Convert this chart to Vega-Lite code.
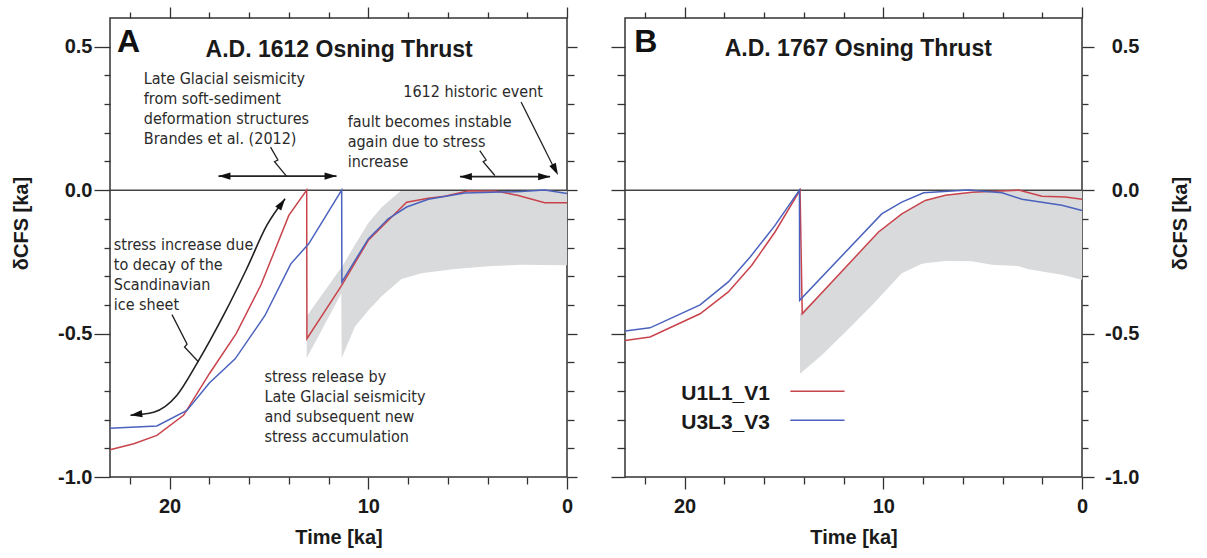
{
  "$schema": "https://vega.github.io/schema/vega-lite/v6.json",
  "background": "white",
  "padding": {"left": 10, "top": 5, "right": 5, "bottom": 5},
  "bounds": "flush",
  "spacing": 58,
  "config": {
    "view": {"stroke": "#333", "strokeWidth": 1.5},
    "axis": {"domain": false, "grid": false, "tickColor": "#333", "tickWidth": 1.3, "labelFont": "Liberation Sans", "labelFontSize": 20, "labelFontWeight": "bold", "labelColor": "#1a1a1a", "titleFont": "Liberation Sans", "titleFontSize": 20, "titleFontWeight": "bold", "titleColor": "#1a1a1a", "labelOverlap": false}
  },
  "datasets": {
    "zero": [{"v": 0}],
    "linesA": [
      {"series": "U1L1_V1", "i": 1, "t": 23.0, "v": -0.905},
      {"series": "U1L1_V1", "i": 2, "t": 21.8, "v": -0.884},
      {"series": "U1L1_V1", "i": 3, "t": 20.64, "v": -0.855},
      {"series": "U1L1_V1", "i": 4, "t": 19.3, "v": -0.785},
      {"series": "U1L1_V1", "i": 5, "t": 18.0, "v": -0.64},
      {"series": "U1L1_V1", "i": 6, "t": 16.65, "v": -0.5},
      {"series": "U1L1_V1", "i": 7, "t": 15.4, "v": -0.33},
      {"series": "U1L1_V1", "i": 8, "t": 14.0, "v": -0.088},
      {"series": "U1L1_V1", "i": 9, "t": 13.1, "v": 0.0},
      {"series": "U1L1_V1", "i": 10, "t": 13.09, "v": -0.518},
      {"series": "U1L1_V1", "i": 11, "t": 11.34, "v": -0.332},
      {"series": "U1L1_V1", "i": 12, "t": 10.0, "v": -0.175},
      {"series": "U1L1_V1", "i": 13, "t": 9.0, "v": -0.106},
      {"series": "U1L1_V1", "i": 14, "t": 8.07, "v": -0.042},
      {"series": "U1L1_V1", "i": 15, "t": 6.98, "v": -0.028},
      {"series": "U1L1_V1", "i": 16, "t": 6.15, "v": -0.021},
      {"series": "U1L1_V1", "i": 17, "t": 5.0, "v": -0.003},
      {"series": "U1L1_V1", "i": 18, "t": 3.6, "v": -0.003},
      {"series": "U1L1_V1", "i": 19, "t": 2.5, "v": -0.018},
      {"series": "U1L1_V1", "i": 20, "t": 1.12, "v": -0.044},
      {"series": "U1L1_V1", "i": 21, "t": 0.0, "v": -0.044},
      {"series": "U3L3_V3", "i": 1, "t": 23.0, "v": -0.83},
      {"series": "U3L3_V3", "i": 2, "t": 20.64, "v": -0.822},
      {"series": "U3L3_V3", "i": 3, "t": 19.13, "v": -0.768},
      {"series": "U3L3_V3", "i": 4, "t": 18.0, "v": -0.672},
      {"series": "U3L3_V3", "i": 5, "t": 16.7, "v": -0.588},
      {"series": "U3L3_V3", "i": 6, "t": 15.2, "v": -0.437},
      {"series": "U3L3_V3", "i": 7, "t": 13.9, "v": -0.257},
      {"series": "U3L3_V3", "i": 8, "t": 13.0, "v": -0.187},
      {"series": "U3L3_V3", "i": 9, "t": 11.34, "v": 0.0},
      {"series": "U3L3_V3", "i": 10, "t": 11.33, "v": -0.32},
      {"series": "U3L3_V3", "i": 11, "t": 10.0, "v": -0.17},
      {"series": "U3L3_V3", "i": 12, "t": 9.0, "v": -0.1},
      {"series": "U3L3_V3", "i": 13, "t": 8.07, "v": -0.059},
      {"series": "U3L3_V3", "i": 14, "t": 6.98, "v": -0.032},
      {"series": "U3L3_V3", "i": 15, "t": 5.14, "v": -0.01},
      {"series": "U3L3_V3", "i": 16, "t": 2.3, "v": -0.005},
      {"series": "U3L3_V3", "i": 17, "t": 1.12, "v": 0.0},
      {"series": "U3L3_V3", "i": 18, "t": 0.0, "v": -0.012}
    ],
    "bandA": [
      {"t": 13.1, "lo": -0.585, "hi": -0.44},
      {"t": 11.36, "lo": -0.36, "hi": -0.27},
      {"t": 11.34, "lo": -0.585, "hi": -0.27},
      {"t": 10.67, "lo": -0.475, "hi": -0.19},
      {"t": 10.0, "lo": -0.42, "hi": -0.115},
      {"t": 9.33, "lo": -0.37, "hi": -0.06},
      {"t": 8.33, "lo": -0.31, "hi": 0},
      {"t": 7.32, "lo": -0.29, "hi": 0},
      {"t": 5.64, "lo": -0.275, "hi": 0},
      {"t": 3.97, "lo": -0.265, "hi": 0},
      {"t": 2.3, "lo": -0.26, "hi": 0},
      {"t": 0, "lo": -0.262, "hi": 0}
    ],
    "notesA": [
      {"t": 21.3, "v": 0.37, "text": "Late Glacial seismicity\nfrom soft-sediment\ndeformation structures\nBrandes et al. (2012)"},
      {"t": 8.24, "v": 0.324, "text": "1612 historic event"},
      {"t": 11.04, "v": 0.22, "text": "fault becomes instable\nagain due to stress\nincrease"},
      {"t": 22.81, "v": -0.21, "text": "stress increase due\nto decay of the\nScandinavian\nice sheet"},
      {"t": 15.23, "v": -0.669, "text": "stress release by\nLate Glacial seismicity\nand subsequent new\nstress accumulation"}
    ],
    "pathsA": [
      {"id": "b1", "i": 1, "t": 14.92, "v": 0.15},
      {"id": "b1", "i": 2, "t": 14.55, "v": 0.105},
      {"id": "b1", "i": 3, "t": 14.72, "v": 0.099},
      {"id": "b1", "i": 4, "t": 14.12, "v": 0.049},
      {"id": "b2", "i": 1, "t": 4.39, "v": 0.138},
      {"id": "b2", "i": 2, "t": 4.07, "v": 0.105},
      {"id": "b2", "i": 3, "t": 4.22, "v": 0.099},
      {"id": "b2", "i": 4, "t": 3.63, "v": 0.051},
      {"id": "h", "i": 1, "t": 2.31, "v": 0.307},
      {"id": "h", "i": 2, "t": 0.6, "v": 0.07},
      {"id": "b3", "i": 1, "t": 19.88, "v": -0.434},
      {"id": "b3", "i": 2, "t": 19.12, "v": -0.537},
      {"id": "b3", "i": 3, "t": 19.25, "v": -0.547},
      {"id": "b3", "i": 4, "t": 18.54, "v": -0.599}
    ],
    "curveA": [
      {"i": 1, "t": 21.97, "v": -0.785},
      {"i": 2, "t": 20.8, "v": -0.774},
      {"i": 3, "t": 19.63, "v": -0.715},
      {"i": 4, "t": 18.63, "v": -0.605},
      {"i": 5, "t": 17.29, "v": -0.437},
      {"i": 6, "t": 16.12, "v": -0.274},
      {"i": 7, "t": 15.11, "v": -0.123},
      {"i": 8, "t": 14.19, "v": -0.03}
    ],
    "harrowsA": [
      {"t1": 17.54, "t2": 11.6, "v": 0.049},
      {"t1": 5.39, "t2": 0.85, "v": 0.047}
    ],
    "headsA": [
      {"id": "L", "t": 17.24, "v": 0.049},
      {"id": "L", "t": 5.09, "v": 0.047},
      {"id": "R", "t": 11.9, "v": 0.049},
      {"id": "R", "t": 1.15, "v": 0.047},
      {"id": "H", "t": 0.59, "v": 0.071},
      {"id": "C1", "t": 21.68, "v": -0.782},
      {"id": "C2", "t": 14.36, "v": -0.047}
    ],
    "titleA": [{"t": 11.47, "v": 0.463, "text": "A.D. 1612 Osning Thrust"}],
    "letterA": [{"t": 22.65, "v": 0.481, "text": "A"}],
    "linesB": [
      {"series": "U1L1_V1", "i": 1, "t": 23.0, "v": -0.524},
      {"series": "U1L1_V1", "i": 2, "t": 21.74, "v": -0.512},
      {"series": "U1L1_V1", "i": 3, "t": 19.22, "v": -0.431},
      {"series": "U1L1_V1", "i": 4, "t": 17.8, "v": -0.355},
      {"series": "U1L1_V1", "i": 5, "t": 16.62, "v": -0.262},
      {"series": "U1L1_V1", "i": 6, "t": 15.45, "v": -0.146},
      {"series": "U1L1_V1", "i": 7, "t": 14.19, "v": 0.0},
      {"series": "U1L1_V1", "i": 8, "t": 14.08, "v": -0.431},
      {"series": "U1L1_V1", "i": 9, "t": 10.24, "v": -0.146},
      {"series": "U1L1_V1", "i": 10, "t": 9.07, "v": -0.083},
      {"series": "U1L1_V1", "i": 11, "t": 7.89, "v": -0.036},
      {"series": "U1L1_V1", "i": 12, "t": 6.88, "v": -0.018},
      {"series": "U1L1_V1", "i": 13, "t": 5.54, "v": -0.007},
      {"series": "U1L1_V1", "i": 14, "t": 3.19, "v": 0.0},
      {"series": "U1L1_V1", "i": 15, "t": 2.02, "v": -0.021},
      {"series": "U1L1_V1", "i": 16, "t": 0.84, "v": -0.024},
      {"series": "U1L1_V1", "i": 17, "t": 0.0, "v": -0.032},
      {"series": "U3L3_V3", "i": 1, "t": 23.0, "v": -0.491},
      {"series": "U3L3_V3", "i": 2, "t": 21.74, "v": -0.48},
      {"series": "U3L3_V3", "i": 3, "t": 19.22, "v": -0.4},
      {"series": "U3L3_V3", "i": 4, "t": 17.8, "v": -0.32},
      {"series": "U3L3_V3", "i": 5, "t": 16.7, "v": -0.233},
      {"series": "U3L3_V3", "i": 6, "t": 15.45, "v": -0.123},
      {"series": "U3L3_V3", "i": 7, "t": 14.22, "v": 0.0},
      {"series": "U3L3_V3", "i": 8, "t": 14.21, "v": -0.384},
      {"series": "U3L3_V3", "i": 9, "t": 10.08, "v": -0.083},
      {"series": "U3L3_V3", "i": 10, "t": 9.07, "v": -0.042},
      {"series": "U3L3_V3", "i": 11, "t": 7.97, "v": -0.009},
      {"series": "U3L3_V3", "i": 12, "t": 5.71, "v": 0.0},
      {"series": "U3L3_V3", "i": 13, "t": 4.03, "v": -0.009},
      {"series": "U3L3_V3", "i": 14, "t": 3.02, "v": -0.032},
      {"series": "U3L3_V3", "i": 15, "t": 1.01, "v": -0.053},
      {"series": "U3L3_V3", "i": 16, "t": 0.0, "v": -0.071}
    ],
    "bandB": [
      {"t": 14.19, "lo": -0.64, "hi": -0.43},
      {"t": 13.1, "lo": -0.576, "hi": -0.358},
      {"t": 11.92, "lo": -0.495, "hi": -0.271},
      {"t": 10.58, "lo": -0.402, "hi": -0.171},
      {"t": 10.24, "lo": -0.377, "hi": -0.146},
      {"t": 9.07, "lo": -0.29, "hi": -0.083},
      {"t": 8.06, "lo": -0.257, "hi": -0.04},
      {"t": 7.89, "lo": -0.255, "hi": -0.036},
      {"t": 6.88, "lo": -0.247, "hi": -0.018},
      {"t": 5.54, "lo": -0.248, "hi": -0.007},
      {"t": 4.53, "lo": -0.26, "hi": 0},
      {"t": 3.19, "lo": -0.265, "hi": 0},
      {"t": 2.69, "lo": -0.276, "hi": 0},
      {"t": 1.01, "lo": -0.295, "hi": 0},
      {"t": 0, "lo": -0.312, "hi": 0}
    ],
    "legendTextB": [
      {"t": 20.17, "v": -0.733, "text": "U1L1_V1"},
      {"t": 20.17, "v": -0.832, "text": "U3L3_V3"}
    ],
    "legendLinesB": [
      {"series": "U1L1_V1", "t1": 14.68, "t2": 11.95, "v": -0.701},
      {"series": "U3L3_V3", "t1": 14.68, "t2": 11.95, "v": -0.802}
    ],
    "titleB": [{"t": 11.26, "v": 0.466, "text": "A.D. 1767 Osning Thrust"}],
    "letterB": [{"t": 22.53, "v": 0.481, "text": "B"}]
  },
  "hconcat": [
    {
      "width": 457,
      "height": 459,
      "resolve": {"axis": {"x": "independent", "y": "independent"}},
      "layer": [
        {
          "data": {"name": "bandA"},
          "mark": {"type": "area", "color": "#d9dadb", "orient": "vertical", "opacity": 1},
          "encoding": {
            "x": {"field": "t", "type": "quantitative", "scale": {"domain": [0, 23], "reverse": true, "nice": false, "zero": false},
              "axis": {"orient": "bottom", "values": [0, 10, 20], "tickSize": 12, "labelPadding": 7, "labelFlush": false, "title": "Time [ka]", "titlePadding": 11}},
            "y": {"field": "lo", "type": "quantitative", "scale": {"domain": [-1, 0.6], "nice": false, "zero": false},
              "axis": {"orient": "left", "values": [-1, -0.5, 0, 0.5], "tickSize": 16, "labelPadding": 2, "labelExpr": "(datum.value < 0 ? '-' : '') + format(abs(datum.value), '.1f')", "title": "δCFS [ka]", "titlePadding": 26, "titleY": 205}},
            "y2": {"field": "hi"}
          }
        },
        {
          "data": {"name": "zero"},
          "mark": {"type": "rule", "color": "#444", "strokeWidth": 1.5},
          "encoding": {
            "y": {"field": "v", "type": "quantitative", "scale": {"domain": [-1, 0.6], "nice": false, "zero": false},
              "axis": {"orient": "left", "values": [-0.9, -0.8, -0.7, -0.6, -0.4, -0.3, -0.2, -0.1, 0.1, 0.2, 0.3, 0.4], "tickSize": 6, "labels": false, "title": null}}
          }
        },
        {
          "data": {"name": "linesA"},
          "mark": {"type": "line", "strokeWidth": 1.5},
          "encoding": {
            "x": {"field": "t", "type": "quantitative", "scale": {"domain": [0, 23], "reverse": true, "nice": false, "zero": false},
              "axis": {"orient": "top", "values": [0, 10, 20], "tickSize": 11, "labels": false, "title": null}},
            "y": {"field": "v", "type": "quantitative", "scale": {"domain": [-1, 0.6], "nice": false, "zero": false},
              "axis": {"orient": "right", "values": [-1, -0.5, 0, 0.5], "tickSize": 10, "labels": false, "title": null}},
            "color": {"field": "series", "type": "nominal", "scale": {"domain": ["U1L1_V1", "U3L3_V3"], "range": ["#c8434b", "#4a62bd"]}, "legend": null},
            "order": {"field": "i"}
          }
        },
        {
          "data": {"name": "notesA"},
          "mark": {"type": "text", "align": "left", "baseline": "alphabetic", "fontSize": 16, "lineHeight": 20, "lineBreak": "\n", "color": "#2a2a2a", "font": "DejaVu Sans Condensed, Liberation Sans"},
          "encoding": {
            "x": {"field": "t", "type": "quantitative", "scale": {"domain": [0, 23], "reverse": true, "nice": false, "zero": false},
              "axis": {"orient": "bottom", "values": [2, 4, 6, 8, 12, 14, 16, 18, 22], "tickSize": 7, "labels": false, "title": null}},
            "y": {"field": "v", "type": "quantitative", "scale": {"domain": [-1, 0.6], "nice": false, "zero": false},
              "axis": {"orient": "right", "values": [-0.9, -0.8, -0.7, -0.6, -0.4, -0.3, -0.2, -0.1, 0.1, 0.2, 0.3, 0.4], "tickSize": 7, "labels": false, "title": null}},
            "text": {"field": "text"}
          }
        },
        {
          "data": {"name": "pathsA"},
          "mark": {"type": "line", "color": "#222", "strokeWidth": 1.3},
          "encoding": {
            "x": {"field": "t", "type": "quantitative", "scale": {"domain": [0, 23], "reverse": true, "nice": false, "zero": false},
              "axis": {"orient": "top", "values": [2, 4, 6, 8, 12, 14, 16, 18, 22], "tickSize": 6, "labels": false, "title": null}},
            "y": {"field": "v", "type": "quantitative", "scale": {"domain": [-1, 0.6], "nice": false, "zero": false}, "axis": null},
            "detail": {"field": "id"},
            "order": {"field": "i"}
          }
        },
        {
          "data": {"name": "curveA"},
          "mark": {"type": "line", "color": "#222", "strokeWidth": 1.6, "interpolate": "monotone"},
          "encoding": {
            "x": {"field": "t", "type": "quantitative", "scale": {"domain": [0, 23], "reverse": true, "nice": false, "zero": false}, "axis": null},
            "y": {"field": "v", "type": "quantitative", "scale": {"domain": [-1, 0.6], "nice": false, "zero": false}, "axis": null},
            "order": {"field": "i"}
          }
        },
        {
          "data": {"name": "harrowsA"},
          "mark": {"type": "rule", "color": "#222", "strokeWidth": 1.8},
          "encoding": {
            "x": {"field": "t1", "type": "quantitative", "scale": {"domain": [0, 23], "reverse": true, "nice": false, "zero": false}, "axis": null},
            "x2": {"field": "t2"},
            "y": {"field": "v", "type": "quantitative", "scale": {"domain": [-1, 0.6], "nice": false, "zero": false}, "axis": null}
          }
        },
        {
          "data": {"name": "headsA"},
          "transform": [{"filter": "datum.id == 'L'"}],
          "mark": {"type": "point", "shape": "M0,-1L0.6,1L-0.6,1Z", "filled": true, "color": "#111", "opacity": 1, "size": 144, "angle": 270},
          "encoding": {
            "x": {"field": "t", "type": "quantitative", "scale": {"domain": [0, 23], "reverse": true, "nice": false, "zero": false}, "axis": null},
            "y": {"field": "v", "type": "quantitative", "scale": {"domain": [-1, 0.6], "nice": false, "zero": false}, "axis": null}
          }
        },
        {
          "data": {"name": "headsA"},
          "transform": [{"filter": "datum.id == 'R'"}],
          "mark": {"type": "point", "shape": "M0,-1L0.6,1L-0.6,1Z", "filled": true, "color": "#111", "opacity": 1, "size": 144, "angle": 90},
          "encoding": {
            "x": {"field": "t", "type": "quantitative", "scale": {"domain": [0, 23], "reverse": true, "nice": false, "zero": false}, "axis": null},
            "y": {"field": "v", "type": "quantitative", "scale": {"domain": [-1, 0.6], "nice": false, "zero": false}, "axis": null}
          }
        },
        {
          "data": {"name": "headsA"},
          "transform": [{"filter": "datum.id == 'H'"}],
          "mark": {"type": "point", "shape": "M0,-1L0.6,1L-0.6,1Z", "filled": true, "color": "#111", "opacity": 1, "size": 144, "angle": 153},
          "encoding": {
            "x": {"field": "t", "type": "quantitative", "scale": {"domain": [0, 23], "reverse": true, "nice": false, "zero": false}, "axis": null},
            "y": {"field": "v", "type": "quantitative", "scale": {"domain": [-1, 0.6], "nice": false, "zero": false}, "axis": null}
          }
        },
        {
          "data": {"name": "headsA"},
          "transform": [{"filter": "datum.id == 'C1'"}],
          "mark": {"type": "point", "shape": "M0,-1L0.6,1L-0.6,1Z", "filled": true, "color": "#111", "opacity": 1, "size": 144, "angle": 262},
          "encoding": {
            "x": {"field": "t", "type": "quantitative", "scale": {"domain": [0, 23], "reverse": true, "nice": false, "zero": false}, "axis": null},
            "y": {"field": "v", "type": "quantitative", "scale": {"domain": [-1, 0.6], "nice": false, "zero": false}, "axis": null}
          }
        },
        {
          "data": {"name": "headsA"},
          "transform": [{"filter": "datum.id == 'C2'"}],
          "mark": {"type": "point", "shape": "M0,-1L0.6,1L-0.6,1Z", "filled": true, "color": "#111", "opacity": 1, "size": 144, "angle": 35},
          "encoding": {
            "x": {"field": "t", "type": "quantitative", "scale": {"domain": [0, 23], "reverse": true, "nice": false, "zero": false}, "axis": null},
            "y": {"field": "v", "type": "quantitative", "scale": {"domain": [-1, 0.6], "nice": false, "zero": false}, "axis": null}
          }
        },
        {
          "data": {"name": "titleA"},
          "mark": {"type": "text", "align": "center", "baseline": "alphabetic", "fontSize": 23, "fontWeight": "bold", "font": "Liberation Sans", "color": "#1a1a1a"},
          "encoding": {
            "x": {"field": "t", "type": "quantitative", "scale": {"domain": [0, 23], "reverse": true, "nice": false, "zero": false}, "axis": null},
            "y": {"field": "v", "type": "quantitative", "scale": {"domain": [-1, 0.6], "nice": false, "zero": false}, "axis": null},
            "text": {"field": "text"}
          }
        },
        {
          "data": {"name": "letterA"},
          "mark": {"type": "text", "align": "left", "baseline": "alphabetic", "fontSize": 32, "fontWeight": "bold", "font": "Liberation Sans", "color": "#111"},
          "encoding": {
            "x": {"field": "t", "type": "quantitative", "scale": {"domain": [0, 23], "reverse": true, "nice": false, "zero": false}, "axis": null},
            "y": {"field": "v", "type": "quantitative", "scale": {"domain": [-1, 0.6], "nice": false, "zero": false}, "axis": null},
            "text": {"field": "text"}
          }
        }
      ]
    },
    {
      "width": 457,
      "height": 459,
      "resolve": {"axis": {"x": "independent", "y": "independent"}},
      "layer": [
        {
          "data": {"name": "bandB"},
          "mark": {"type": "area", "color": "#d9dadb", "orient": "vertical", "opacity": 1},
          "encoding": {
            "x": {"field": "t", "type": "quantitative", "scale": {"domain": [0, 23], "reverse": true, "nice": false, "zero": false},
              "axis": {"orient": "bottom", "values": [0, 10, 20], "tickSize": 12, "labelPadding": 7, "labelFlush": false, "title": "Time [ka]", "titlePadding": 11}},
            "y": {"field": "lo", "type": "quantitative", "scale": {"domain": [-1, 0.6], "nice": false, "zero": false},
              "axis": {"orient": "left", "values": [-1, -0.5, 0, 0.5], "tickSize": 14, "labels": false, "title": null}},
            "y2": {"field": "hi"}
          }
        },
        {
          "data": {"name": "zero"},
          "mark": {"type": "rule", "color": "#444", "strokeWidth": 1.5},
          "encoding": {
            "y": {"field": "v", "type": "quantitative", "scale": {"domain": [-1, 0.6], "nice": false, "zero": false},
              "axis": {"orient": "left", "values": [-0.9, -0.8, -0.7, -0.6, -0.4, -0.3, -0.2, -0.1, 0.1, 0.2, 0.3, 0.4], "tickSize": 8, "labels": false, "title": null}}
          }
        },
        {
          "data": {"name": "linesB"},
          "mark": {"type": "line", "strokeWidth": 1.5},
          "encoding": {
            "x": {"field": "t", "type": "quantitative", "scale": {"domain": [0, 23], "reverse": true, "nice": false, "zero": false},
              "axis": {"orient": "top", "values": [0, 10, 20], "tickSize": 11, "labels": false, "title": null}},
            "y": {"field": "v", "type": "quantitative", "scale": {"domain": [-1, 0.6], "nice": false, "zero": false},
              "axis": {"orient": "right", "values": [-1, -0.5, 0, 0.5], "tickSize": 12, "labelPadding": 45, "labelAlign": "right", "labelExpr": "(datum.value < 0 ? '-' : '') + format(abs(datum.value), '.1f')", "title": "δCFS [ka]", "titleAngle": 270, "titleBaseline": "top", "titlePadding": 31, "titleY": 205}},
            "color": {"field": "series", "type": "nominal", "scale": {"domain": ["U1L1_V1", "U3L3_V3"], "range": ["#c8434b", "#4a62bd"]}, "legend": null},
            "order": {"field": "i"}
          }
        },
        {
          "data": {"name": "legendTextB"},
          "mark": {"type": "text", "align": "left", "baseline": "alphabetic", "fontSize": 21, "fontWeight": "bold", "font": "Liberation Sans", "color": "#1a1a1a"},
          "encoding": {
            "x": {"field": "t", "type": "quantitative", "scale": {"domain": [0, 23], "reverse": true, "nice": false, "zero": false},
              "axis": {"orient": "bottom", "values": [2, 4, 6, 8, 12, 14, 16, 18, 22], "tickSize": 7, "labels": false, "title": null}},
            "y": {"field": "v", "type": "quantitative", "scale": {"domain": [-1, 0.6], "nice": false, "zero": false},
              "axis": {"orient": "right", "values": [-0.9, -0.8, -0.7, -0.6, -0.4, -0.3, -0.2, -0.1, 0.1, 0.2, 0.3, 0.4], "tickSize": 6, "labels": false, "title": null}},
            "text": {"field": "text"}
          }
        },
        {
          "data": {"name": "legendLinesB"},
          "mark": {"type": "rule", "strokeWidth": 1.5},
          "encoding": {
            "x": {"field": "t1", "type": "quantitative", "scale": {"domain": [0, 23], "reverse": true, "nice": false, "zero": false},
              "axis": {"orient": "top", "values": [2, 4, 6, 8, 12, 14, 16, 18, 22], "tickSize": 6, "labels": false, "title": null}},
            "x2": {"field": "t2"},
            "y": {"field": "v", "type": "quantitative", "scale": {"domain": [-1, 0.6], "nice": false, "zero": false}, "axis": null},
            "color": {"field": "series", "type": "nominal", "scale": {"domain": ["U1L1_V1", "U3L3_V3"], "range": ["#c8434b", "#4a62bd"]}, "legend": null}
          }
        },
        {
          "data": {"name": "titleB"},
          "mark": {"type": "text", "align": "center", "baseline": "alphabetic", "fontSize": 23, "fontWeight": "bold", "font": "Liberation Sans", "color": "#1a1a1a"},
          "encoding": {
            "x": {"field": "t", "type": "quantitative", "scale": {"domain": [0, 23], "reverse": true, "nice": false, "zero": false}, "axis": null},
            "y": {"field": "v", "type": "quantitative", "scale": {"domain": [-1, 0.6], "nice": false, "zero": false}, "axis": null},
            "text": {"field": "text"}
          }
        },
        {
          "data": {"name": "letterB"},
          "mark": {"type": "text", "align": "left", "baseline": "alphabetic", "fontSize": 32, "fontWeight": "bold", "font": "Liberation Sans", "color": "#111"},
          "encoding": {
            "x": {"field": "t", "type": "quantitative", "scale": {"domain": [0, 23], "reverse": true, "nice": false, "zero": false}, "axis": null},
            "y": {"field": "v", "type": "quantitative", "scale": {"domain": [-1, 0.6], "nice": false, "zero": false}, "axis": null},
            "text": {"field": "text"}
          }
        }
      ]
    }
  ]
}
